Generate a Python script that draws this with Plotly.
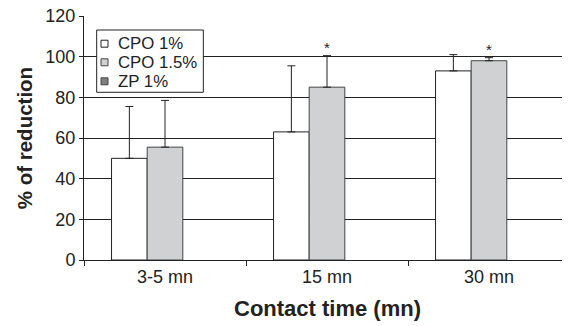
import plotly.graph_objects as go

categories = ["3-5 mn", "15 mn", "30 mn"]
series_names = ["CPO 1%", "CPO 1.5%", "ZP 1%"]
cpo1 = [50, 63, 93]
cpo1_err = [25.5, 32.5, 8]
cpo15 = [55.5, 85, 98]
cpo15_err = [23, 15.5, 1.5]
zp1 = [None, None, None]
y_ticks = [0, 20, 40, 60, 80, 100, 120]
stars = ["15 mn", "30 mn"]

font_family = "Liberation Sans, Arial, sans-serif"
fills = ["white", "#d0d1d3", "#7f7f7f"]
edges = ["#222", "#444", "#444"]

fig = go.Figure()
err_style = dict(type="data", symmetric=False, arrayminus=[0, 0, 0],
                 color="#222", thickness=1, width=4)
errs = [cpo1_err, cpo15_err, None]
for name, vals, err, fc, ec in zip(series_names, [cpo1, cpo15, zp1], errs, fills, edges):
    kw = {}
    if err is not None:
        kw["error_y"] = dict(array=err, **err_style)
    fig.add_trace(go.Bar(name=name, x=categories, y=vals, showlegend=False,
                         marker=dict(color=fc, line=dict(color=ec, width=1)), **kw))

for cat in stars:
    i = categories.index(cat)
    fig.add_annotation(x=cat, y=cpo15[i] + cpo15_err[i], text="*", showarrow=False,
                       xshift=0, yshift=8, font=dict(size=15, color="#222"))

# legend box (drawn to match compact reference legend)
fig.add_shape(type="rect", xref="paper", yref="paper", x0=0.0261, x1=0.2455,
              y0=0.6873, y1=0.9426, fillcolor="white", line=dict(color="#222", width=1),
              layer="above")
row_y = [0.8865, 0.8102, 0.7324]
for name, fc, ec, ry in zip(series_names, fills, edges, row_y):
    fig.add_shape(type="rect", xref="paper", yref="paper", x0=0.035, x1=0.0494,
                  y0=ry - 0.0143, y1=ry + 0.0143, fillcolor=fc,
                  line=dict(color=ec, width=1), layer="above")
    fig.add_annotation(text=name, xref="paper", yref="paper", x=0.065, y=ry,
                       xanchor="left", yanchor="middle", showarrow=False,
                       font=dict(size=16.8, color="#222"))

# axis titles as annotations for exact placement
fig.add_annotation(text="<b>Contact time (mn)</b>", xref="paper", yref="paper",
                   x=0.5, y=-0.197, xanchor="center", yanchor="middle",
                   showarrow=False, font=dict(size=22, color="#222"))
fig.add_annotation(text="<b>% of reduction</b>", xref="paper", yref="paper",
                   x=-0.123, y=0.5, xanchor="center", yanchor="middle", textangle=-90,
                   showarrow=False, font=dict(size=20.5, color="#222"))

fig.update_layout(
    width=562, height=318,
    margin=dict(l=76, r=0, t=8, b=66, autoexpand=False),
    paper_bgcolor="white", plot_bgcolor="white",
    barmode="group", bargap=0.34, bargroupgap=0,
    font=dict(family=font_family, size=17, color="#222"),
    showlegend=False,
    xaxis=dict(automargin=False,
               showline=True, linecolor="#222", linewidth=1,
               ticks="outside", tickson="boundaries", ticklen=5, tickcolor="#222",
               showgrid=False, tickfont=dict(size=18)),
    yaxis=dict(automargin=False, ticklabeloverflow="allow",
               range=[0, 120], tickvals=y_ticks, showline=True, linecolor="#222",
               linewidth=1, ticks="outside", ticklen=4, tickcolor="#222",
               showgrid=True, gridcolor="#222", gridwidth=1, zeroline=False,
               tickfont=dict(size=18)),
)

fig.write_html("out.html")
